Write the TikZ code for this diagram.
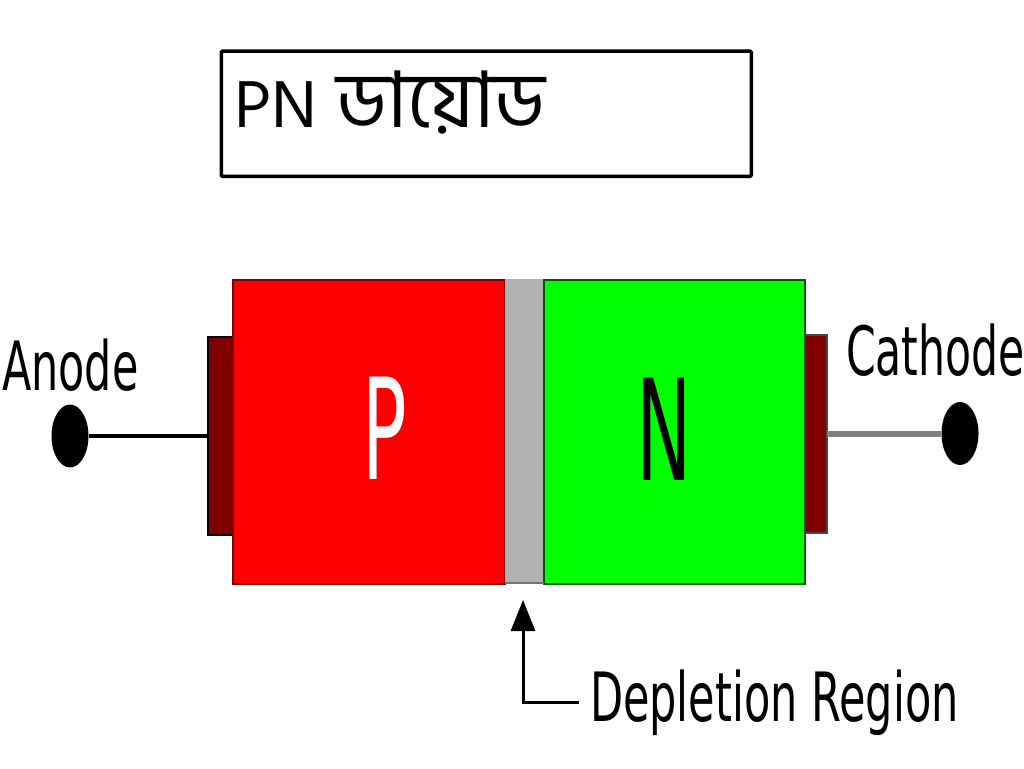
\documentclass[tikz,border=0pt]{standalone}
\usepackage{fontspec}
\setmainfont{DejaVu Sans}
\newfontfamily\bnfont[Script=Bengali]{Hind Siliguri}
\usetikzlibrary{arrows.meta,calc,shapes.geometric}
\tikzset{
  region/.style={rectangle,inner sep=0pt,outer sep=0pt,anchor=north west,draw=#1,line width=2pt},
  terminal/.style={ellipse,fill=black,draw=none,inner sep=0pt,minimum width=37pt,minimum height=63pt},
  label/.style={inner sep=0pt,outer sep=0pt,anchor=base west,font=\fontsize{66pt}{66pt}\selectfont,transform shape},
  lead/.style={line width=4pt},
}
\begin{document}
\begin{tikzpicture}[x=1pt,y=-1pt]
\useasboundingbox (0,0) rectangle (1024,768);
\fill[white] (0,0) rectangle (1024,768);
% title
\node[draw=black,line width=3.5pt,rounded corners=1pt,inner sep=0pt,minimum width=530pt,minimum height=125pt,anchor=north west] (title) at (219.5,49.5) {};
\node[inner sep=0pt,anchor=base west,font=\bnfont\fontsize{68pt}{68pt}\selectfont] (titletext) at (234,127) {PN\kern 4pt\ {\fontsize{78pt}{78pt}\selectfont ডায়োড}};
% pads
\node[region=black,fill=black!50!red,minimum width=25pt,minimum height=198pt] (anodepad) at (208,337) {};
\node[region=black!45!gray,fill=black!50!red,minimum width=22pt,minimum height=198pt] (cathodepad) at (805,335) {};
% body
\node[region=red!50!black,fill=red,minimum width=272pt,minimum height=304pt] (p) at (233,280) {};
\node[region=gray!80,fill=black!30,draw=none,minimum width=39pt,minimum height=305pt] (dep) at (505,279) {};
\node[region=green!35!black,fill=green,minimum width=261pt,minimum height=304pt] (n) at (544,280) {};
\fill[black!55] (dep.south west) ++(0,-2) rectangle (dep.south east);
% junction letters
\node[label,white,xscale=1.12,yscale=2.13] (plabel) at (362,479) {P};
\node[label,black,xscale=1.12,yscale=2.13] (nlabel) at (636,480) {N};
% terminals
\node[terminal] (anode) at (70,436) {};
\node[terminal] (cathode) at (960,433.5) {};
\draw[lead,black] (anode) -- (anode -| anodepad.west);
\draw[lead,gray,line width=6pt] (cathode) -- (cathode -| cathodepad.east);
\node[label,xscale=.65,yscale=1.03] (anodelabel) at (2,390) {Anode};
\node[label,xscale=.645,yscale=1.03] (cathodelabel) at (846,375) {Cathode};
% depletion pointer
\node[label,xscale=.652,yscale=1.03] (deplabel) at (590,721) {Depletion Region};
\coordinate (elbow) at (523,702);
\coordinate (tipend) at (523,600);
\draw[line width=3pt,black,-{Triangle[length=31pt,width=24pt]}] (deplabel.base west |- elbow) ++(-11,0) -- (elbow) -- (tipend);
\end{tikzpicture}
\end{document}
